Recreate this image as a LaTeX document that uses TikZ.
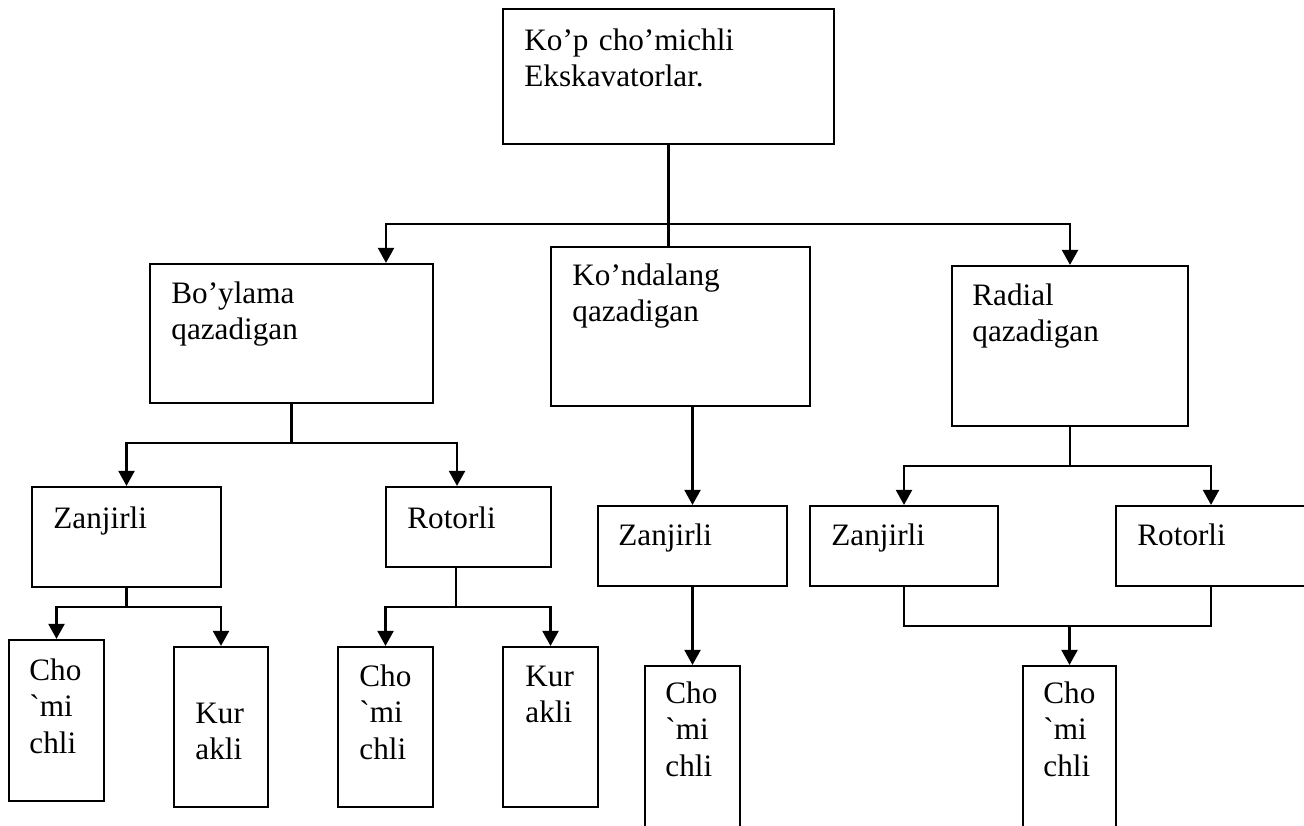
\documentclass[tikz,border=0pt]{standalone}
\usepackage{fontspec}
\setmainfont{Liberation Serif}
\usetikzlibrary{arrows.meta,fit}

\tikzset{
  unit/.style={draw, line width=1.1pt, inner sep=0pt},
  txt/.style={anchor=base west, inner sep=0pt, align=left, text width=#1,
    font=\fontsize{15.6}{18.3}\selectfont},
  link/.style={line width=1.1pt},
  arr/.style={link, -{Triangle[width=8pt,length=7.5pt]}}
}

\begin{document}
\begin{tikzpicture}[x=0.5pt, y=-0.5pt]
    % Page frame (pixels, y downwards)
    \useasboundingbox (0,0) rectangle (1304,825);
    \clip (0,0) rectangle (1304,825);

    % Draw boxes from their corners
    \foreach \n/\xa/\ya/\xb/\yb in {top/503/9/834/144, boy/150/264/433/403,
        kon/551/247/810/406, rad/952/266/1188/426,
        zl/32/487/221/587, rl/386/487/551/567,
        zm/598/506/787/586, zr/810/506/998/586, rr/1116/506/1306/586,
        cho1/9/640/104/801, kur1/174/647/268/807,
        cho2/338/647/433/807, kur2/503/647/598/807,
        cho3/645/666/740/840, cho4/1023/666/1116/840}
        \node[unit, fit={(\xa,\ya) (\xb,\yb)}] (\n) {};

    % Box texts, first baseline at (x,y)
    \foreach \n/\x/\y/\w/\lbl in {
        top/524/50/151pt/{Ko’p cho’michli\\Ekskavatorlar.},
        boy/171/303/127pt/{Bo’ylama\\qazadigan},
        kon/572/285/115pt/{Ko’ndalang\\qazadigan},
        rad/972/305/104pt/{Radial\\qazadigan},
        zl/53/528/80pt/{Zanjirli}, rl/407/528/68pt/{Rotorli},
        zm/618/545/80pt/{Zanjirli}, zr/831/545/79pt/{Zanjirli},
        rr/1137/545/79pt/{Rotorli},
        cho1/29/680/33pt/{Cho\\\textasciigrave mi\\chli},
        kur1/195/723/32pt/{Kur\\akli},
        cho2/359/686/33pt/{Cho\\\textasciigrave mi\\chli},
        kur2/525/686/32pt/{Kur\\akli},
        cho3/665/703/33pt/{Cho\\\textasciigrave mi\\chli},
        cho4/1043/703/32pt/{Cho\\\textasciigrave mi\\chli}}
        \node[txt=\w] (\n-t) at (\x,\y) {\lbl};

    % Main fork
    \coordinate (f1) at (top.south |- 0,224);
    \draw[link] (top.south) -- (top.south |- kon.north);
    \draw[arr] (f1) -| (boy.north -| 386,0);
    \draw[arr] (f1) -| (rad.north);

    % Bo'ylama fork
    \coordinate (f2) at (boy.south |- 0,443);
    \draw[link] (boy.south) -- (f2);
    \draw[arr] (f2) -| (zl.north);
    \draw[arr] (f2) -| (rl.north -| 457,0);

    % Ko'ndalang
    \draw[arr] (zm.north |- kon.south) -- (zm.north);

    % Radial fork
    \coordinate (f3) at (rad.south |- 0,466);
    \draw[link] (rad.south) -- (f3);
    \draw[arr] (f3) -| (zr.north);
    \draw[arr] (f3) -| (rr.north);

    % Zanjirli (left) fork
    \coordinate (f4) at (zl.south |- 0,607);
    \draw[link] (zl.south) -- (f4);
    \draw[arr] (f4) -| (cho1.north);
    \draw[arr] (f4) -| (kur1.north);

    % Rotorli (left) fork
    \coordinate (f5) at (456,607);
    \draw[link] (rl.south -| f5) -- (f5);
    \draw[arr] (f5) -| (cho2.north);
    \draw[arr] (f5) -| (kur2.north);

    % Zanjirli (middle)
    \draw[arr] (zm.south) -- (cho3.north);

    % Zanjirli and Rotorli (right) join
    \coordinate (f6) at (cho4.north |- 0,626);
    \draw[link] (zr.south) |- (f6) -| (rr.south);
    \draw[arr] (f6) -- (cho4.north);
\end{tikzpicture}
\end{document}
